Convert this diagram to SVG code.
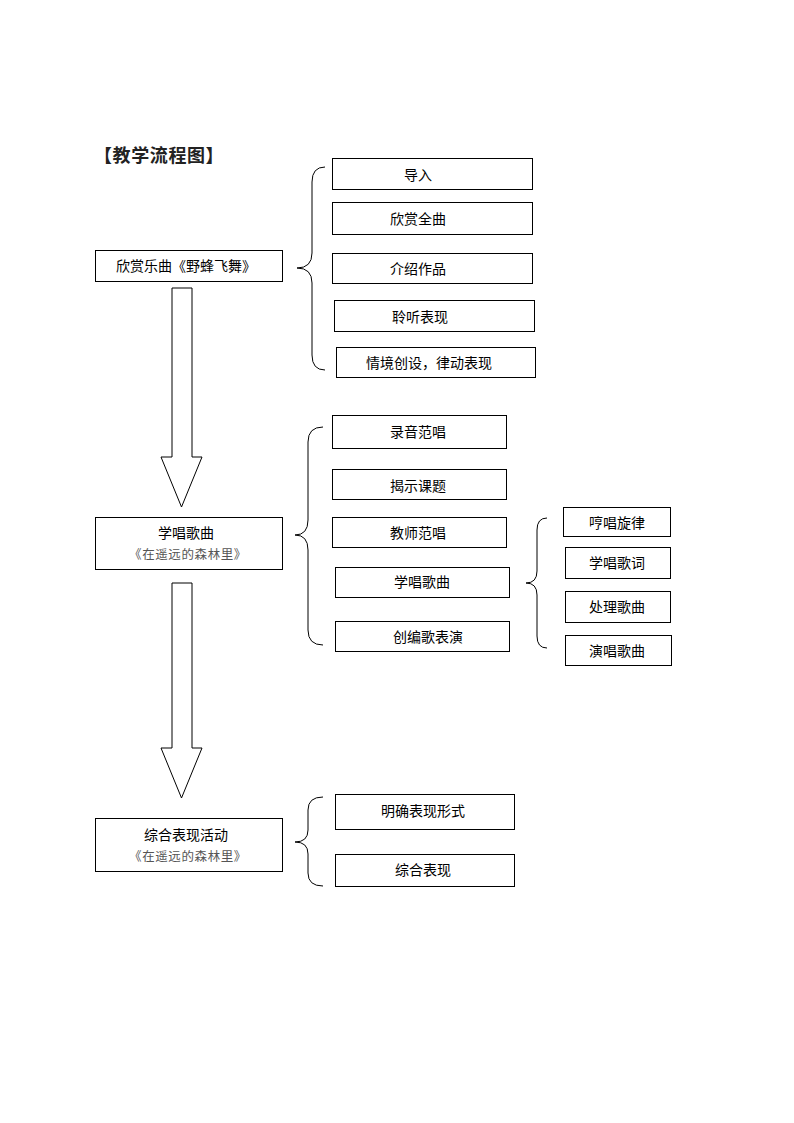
<svg xmlns="http://www.w3.org/2000/svg" width="794" height="1123" viewBox="0 0 794 1123">
<style>
  .box { fill: #fff; stroke: #000; stroke-width: 1; }
  .t { font-family: "Noto Sans CJK SC", "Noto Sans", sans-serif; font-size: 14px; fill: #000; text-anchor: middle; dominant-baseline: central; }
  .sub { font-family: "Noto Sans CJK SC", "Noto Sans", sans-serif; font-size: 12.5px; letter-spacing: 0.6px; fill: #555; text-anchor: middle; dominant-baseline: central; }
  .title { font-family: "Noto Sans CJK SC", "Noto Sans", sans-serif; font-size: 18px; letter-spacing: 0.6px; font-weight: bold; fill: #222; dominant-baseline: central; }
  .brace { fill: none; stroke: #000; stroke-width: 1; }
  .arrow { fill: #fff; stroke: #000; stroke-width: 1; }
</style>
<rect width="794" height="1123" fill="#fff"/>
<text class="title" x="94" y="154">【教学流程图】</text>

<g id="main1"><rect class="box" x="95.5" y="250.5" width="187" height="31"/><text class="t" x="186" y="265">欣赏乐曲《野蜂飞舞》</text></g>
<g id="main2"><rect class="box" x="95.5" y="517.5" width="187" height="52"/><text class="t" x="186" y="532">学唱歌曲</text><text class="sub" x="188" y="553">《在遥远的森林里》</text></g>
<g id="main3"><rect class="box" x="95.5" y="818.5" width="187" height="53"/><text class="t" x="186" y="834">综合表现活动</text><text class="sub" x="188" y="855">《在遥远的森林里》</text></g>

<g id="n1"><rect class="box" x="332.5" y="158.5" width="200" height="31"/><text class="t" x="418" y="173.5">导入</text></g>
<g id="n2"><rect class="box" x="332.5" y="202.5" width="200" height="32"/><text class="t" x="418" y="218">欣赏全曲</text></g>
<g id="n3"><rect class="box" x="332.5" y="253.5" width="200" height="30"/><text class="t" x="418" y="268">介绍作品</text></g>
<g id="n4"><rect class="box" x="334.5" y="300.5" width="200" height="31"/><text class="t" x="420" y="316">聆听表现</text></g>
<g id="n5"><rect class="box" x="336.5" y="347.5" width="199" height="30"/><text class="t" x="429" y="361.5">情境创设，律动表现</text></g>

<g id="n6"><rect class="box" x="332.5" y="415.5" width="174" height="33"/><text class="t" x="418" y="431">录音范唱</text></g>
<g id="n7"><rect class="box" x="332.5" y="469.5" width="174" height="30"/><text class="t" x="418" y="484.5">揭示课题</text></g>
<g id="n8"><rect class="box" x="332.5" y="517.5" width="174" height="30"/><text class="t" x="418" y="532">教师范唱</text></g>
<g id="n9"><rect class="box" x="335.5" y="567.5" width="174" height="30"/><text class="t" x="422" y="581">学唱歌曲</text></g>
<g id="n10"><rect class="box" x="335.5" y="621.5" width="174" height="30"/><text class="t" x="428" y="636">创编歌表演</text></g>

<g id="n11"><rect class="box" x="563.5" y="507.5" width="107" height="29"/><text class="t" x="617" y="522">哼唱旋律</text></g>
<g id="n12"><rect class="box" x="565.5" y="547.5" width="105" height="31"/><text class="t" x="617" y="562">学唱歌词</text></g>
<g id="n13"><rect class="box" x="565.5" y="591.5" width="105" height="31"/><text class="t" x="617" y="606">处理歌曲</text></g>
<g id="n14"><rect class="box" x="565.5" y="635.5" width="106" height="30"/><text class="t" x="617" y="650">演唱歌曲</text></g>

<g id="n15"><rect class="box" x="335.5" y="794.5" width="179" height="35"/><text class="t" x="423" y="810">明确表现形式</text></g>
<g id="n16"><rect class="box" x="335.5" y="854.5" width="179" height="32"/><text class="t" x="423" y="869">综合表现</text></g>

<g id="connectors">
  <polygon class="arrow" points="172,288 192,288 192,457 202,457 181.5,507 161,457 172,457"/>
  <polygon class="arrow" points="172,583 192,583 192,748 202,748 181.5,798 161,748 172,748"/>
  <path class="brace" d="M325,167 Q312,167 312,182 L312,253 Q312,268 297,268 Q312,268 312,283 L312,355 Q312,370 325,370"/>
  <path class="brace" d="M323,427 Q308,427 308,442 L308,520 Q308,535 295,535 Q308,535 308,550 L308,630 Q308,645 323,645"/>
  <path class="brace" d="M547,518 Q537,518 537,530 L537,571 Q537,583 526,583 Q537,583 537,595 L537,636 Q537,648 547,648"/>
  <path class="brace" d="M323,797 Q308,797 308,810 L308,830 Q308,842 295,842 Q308,842 308,854 L308,873 Q308,886 323,886"/>
</g>
</svg>
